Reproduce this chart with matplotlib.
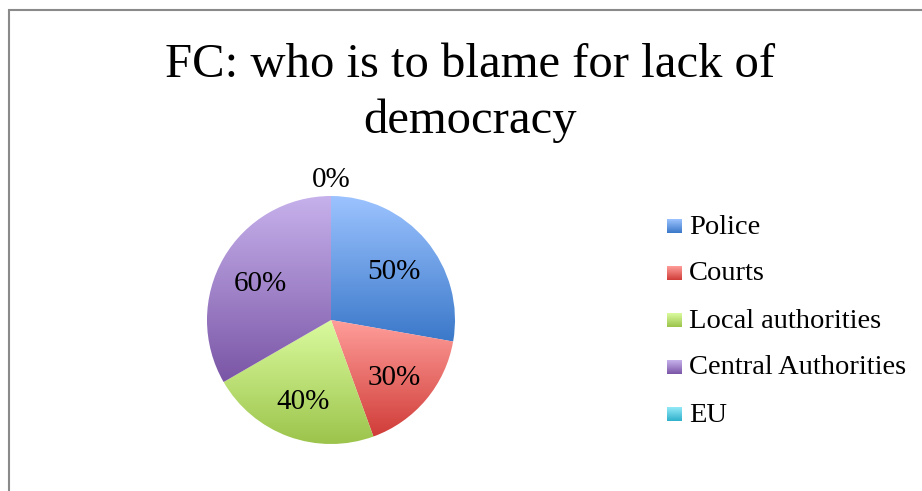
import numpy as np
import matplotlib
matplotlib.use("Agg")
import matplotlib.pyplot as plt
from matplotlib.colors import LinearSegmentedColormap

title_lines = ["FC: who is to blame for lack of", "democracy"]
categories = ["Police", "Courts", "Local authorities", "Central Authorities", "EU"]
values = [50, 30, 40, 60, 0]
# (top colour, bottom colour) for the vertical gradients
colors = [("#9cc3ff", "#3a78c9"),
          ("#ff9e9a", "#d03c38"),
          ("#dbfb9f", "#9bc34a"),
          ("#c7b2ec", "#7a55a6"),
          ("#93eaf8", "#2fb0cc")]

W, H = 922, 491
fig = plt.figure(figsize=(W / 100, H / 100), dpi=100)
ax = fig.add_axes([0, 0, 1, 1])
serif = "Liberation Serif"

cx, cy, r = 331, H - 320, 124
grad = np.linspace(0, 1, 256).reshape(-1, 1)


def gradient_fill(ax, patch, x0, x1, y0, y1, top, bottom):
    cmap = LinearSegmentedColormap.from_list("g", [bottom, top])
    im = ax.imshow(grad, cmap=cmap, extent=[x0, x1, y0, y1], origin="lower",
                   aspect="auto", interpolation="bilinear", zorder=2)
    if patch is not None:
        im.set_clip_path(patch)


wedges, _ = ax.pie(values, startangle=90, counterclock=False, center=(cx, cy),
                   radius=r, wedgeprops=dict(linewidth=0))
for w, (top, bottom), v in zip(wedges, colors, values):
    w.set_facecolor("none")
    if v == 0:
        continue
    pts = w.get_patch_transform().transform(w.get_path().vertices)
    gradient_fill(ax, w, pts[:, 0].min(), pts[:, 0].max(),
                  pts[:, 1].min(), pts[:, 1].max(), top, bottom)

# percentage labels
total = sum(values)
start = 90.0
for v in values:
    span = v / total * 360
    mid = np.deg2rad(start - span / 2)
    if v > 0:
        d, dy = 0.66 * r, -5
    else:
        d, dy = 1.14 * r, -1
    ax.text(cx + d * np.cos(mid), cy + d * np.sin(mid) + dy, f"{v}%",
            ha="center", va="center", fontsize=21, family=serif, zorder=5)
    start -= span

# legend
lx, ly0, step, sq = 667, H - 226, 47, 15
for i, (name, (top, bottom)) in enumerate(zip(categories, colors)):
    yc = ly0 - i * step
    gradient_fill(ax, None, lx, lx + sq, yc - 7, yc + 7, top, bottom)
    ax.text(lx + 22, yc - 1, name, ha="left", va="center", fontsize=20.5,
            family=serif)

# title
ax.text(470, H - 65, title_lines[0], ha="center", va="center", fontsize=35,
        family=serif)
ax.text(470, H - 121, title_lines[1], ha="center", va="center", fontsize=35,
        family=serif)

# chart border
ax.plot([8.5, 8.5, W + 5], [-5, H - 9.5, H - 9.5], color="#8a8a8a", lw=1.5,
        solid_joinstyle="miter")

ax.set_xlim(0, W)
ax.set_ylim(0, H)
ax.set_aspect("auto")
ax.axis("off")
fig.savefig("out.png", dpi=100)
